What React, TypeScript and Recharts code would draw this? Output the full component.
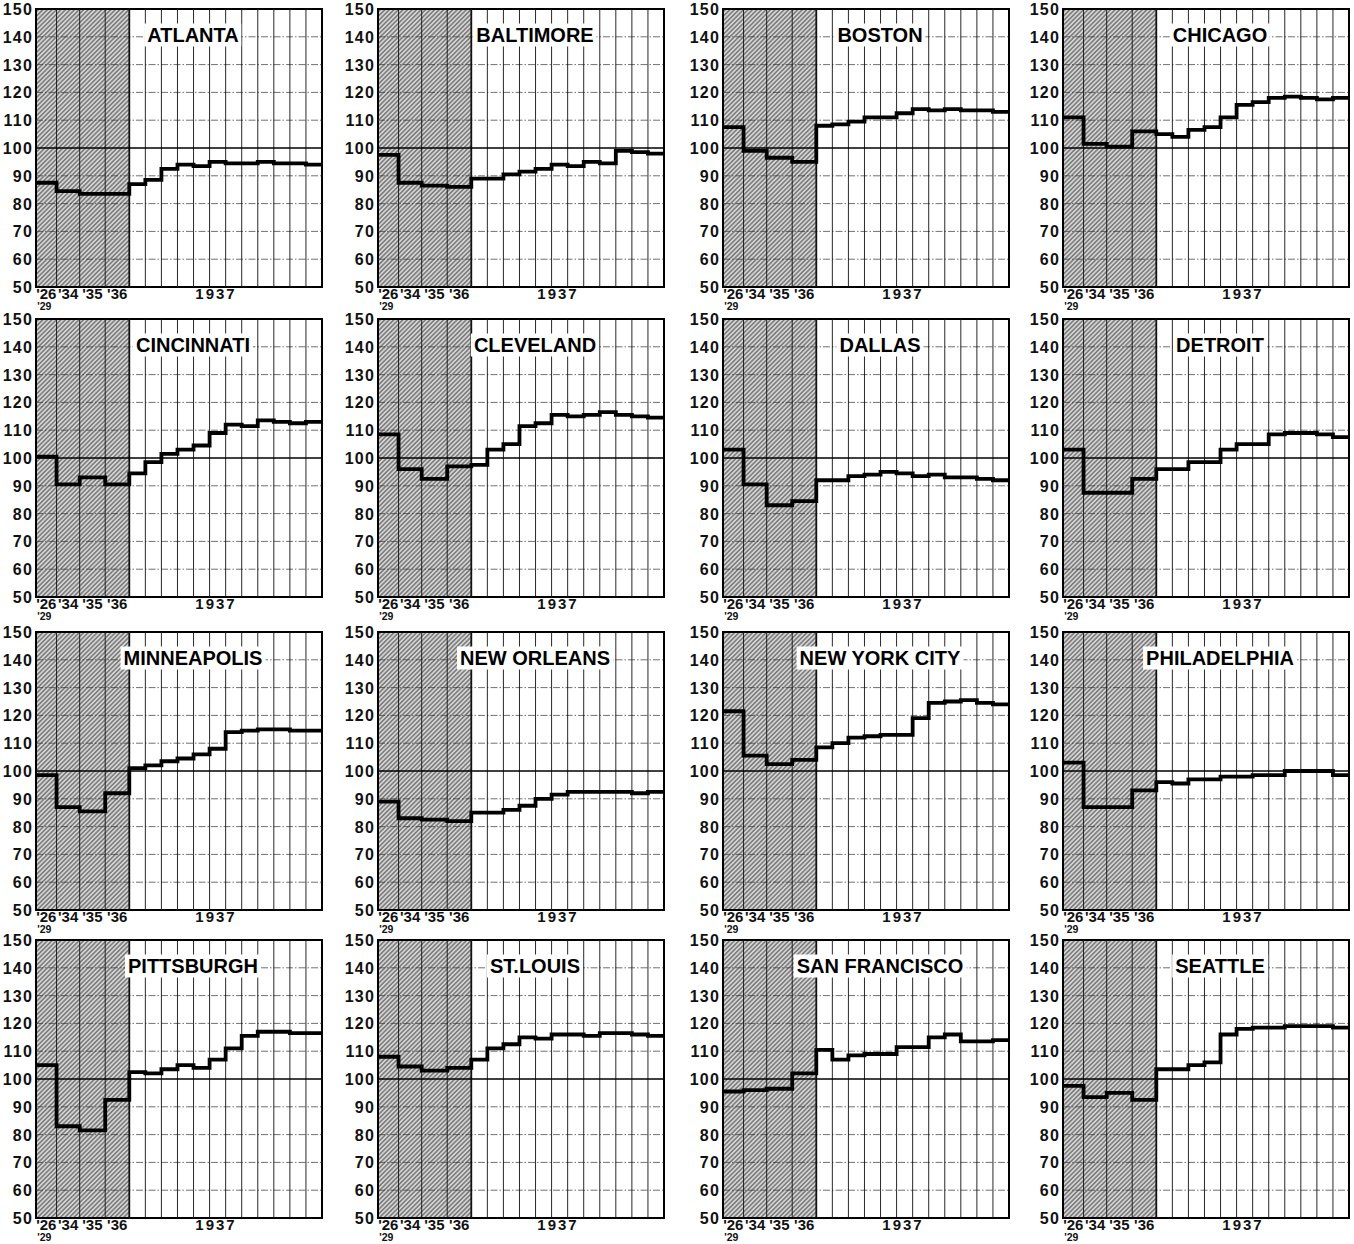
import React from 'react';
import { LineChart, Line, XAxis, YAxis, ReferenceArea, ReferenceLine } from 'recharts';

// ---------- data ----------
const CITIES = [
  'ATLANTA', 'BALTIMORE', 'BOSTON', 'CHICAGO',
  'CINCINNATI', 'CLEVELAND', 'DALLAS', 'DETROIT',
  'MINNEAPOLIS', 'NEW ORLEANS', 'NEW YORK CITY', 'PHILADELPHIA',
  'PITTSBURGH', 'ST.LOUIS', 'SAN FRANCISCO', 'SEATTLE',
];

// periods: '26-'29, '34, '35, '36, then Jan..Dec 1937
const ATLANTA = [87.5, 84.5, 83.5, 83.5, 87, 88.5, 92.5, 94, 93.5, 95, 94.5, 94.5, 95, 94.5, 94.5, 94];
const BALTIMORE = [97.5, 87.5, 86.5, 86, 89, 89, 90.5, 91.5, 92.5, 94, 93.5, 95, 94.5, 99, 98.5, 98];
const BOSTON = [107.5, 99, 96.5, 95, 108, 108.5, 109.5, 111, 111, 112.5, 114, 113.5, 114, 113.5, 113.5, 113];
const CHICAGO = [111, 101.5, 100.5, 106, 105, 104, 106.5, 107.5, 111, 115.5, 116.5, 118, 118.5, 118, 117.5, 118];
const CINCINNATI = [100.5, 90.5, 93, 90.5, 94.5, 98.5, 101.5, 103, 104.5, 109, 112, 111.5, 113.5, 113, 112.5, 113];
const CLEVELAND = [108.5, 96, 92.5, 97, 97.5, 103, 105, 111.5, 112.5, 115.5, 115, 115.5, 116.5, 115.5, 115, 114.5];
const DALLAS = [103, 90.5, 83, 84.5, 92, 92, 93.5, 94, 95, 94.5, 93.5, 94, 93, 93, 92.5, 92];
const DETROIT = [103, 87.5, 87.5, 92.5, 96, 96, 98.5, 98.5, 103, 105, 105, 108.5, 109, 109, 108.5, 107.5];
const MINNEAPOLIS = [98.5, 87, 85.5, 92, 101, 102, 103.5, 104.5, 106, 108, 114, 114.5, 115, 115, 114.5, 114.5];
const NEW_ORLEANS = [89, 83, 82.5, 82, 85, 85, 86, 87.5, 90, 91.5, 92.5, 92.5, 92.5, 92.5, 92, 92.5];
const NEW_YORK_CITY = [121.5, 105.5, 102.5, 104, 108.5, 110, 112, 112.5, 113, 113, 119, 124.5, 125, 125.5, 124.5, 124];
const PHILADELPHIA = [103, 87, 87, 93, 96, 95.5, 97, 97, 98, 98, 98.5, 98.5, 100, 100, 100, 98.5];
const PITTSBURGH = [105, 83, 81.5, 92.5, 102.5, 102, 103.5, 105, 104, 107, 111, 115.5, 117, 117, 116.5, 116.5];
const ST_LOUIS = [108, 104.5, 103, 104, 107, 111, 112.5, 115, 114.5, 116, 116, 115.5, 116.5, 116.5, 116, 115.5];
const SAN_FRANCISCO = [95.5, 96, 96.5, 102, 110.5, 107, 108.5, 109, 109, 111.5, 111.5, 115, 116, 113.5, 113.5, 114];
const SEATTLE = [97.5, 93.5, 95, 92.5, 103.5, 103.5, 105, 106, 116, 118, 118.5, 118.5, 119, 119, 119, 118.5];

const SERIES = [
  ATLANTA, BALTIMORE, BOSTON, CHICAGO,
  CINCINNATI, CLEVELAND, DALLAS, DETROIT,
  MINNEAPOLIS, NEW_ORLEANS, NEW_YORK_CITY, PHILADELPHIA,
  PITTSBURGH, ST_LOUIS, SAN_FRANCISCO, SEATTLE,
];

const PERIOD_LABELS = ["'26", "'34", "'35", "'36"];
const PERIOD_SUBLABEL = "'29";
const YEAR_LABEL = '1937';
const MONTH_COUNT = 12;
const Y_TICKS = [50, 60, 70, 80, 90, 100, 110, 120, 130, 140, 150];

// ---------- layout ----------
const EARLY_COL_WIDTHS = [1.28, 1.44, 1.59, 1.5]; // relative widths of the shaded columns (a month = 1)
const COL_WIDTHS = [...EARLY_COL_WIDTHS, ...Array(MONTH_COUNT).fill(1)];
const BOUNDS: number[] = COL_WIDTHS.reduce((acc: number[], w) => [...acc, acc[acc.length - 1] + w], [0]);
const TOTAL = BOUNDS[BOUNDS.length - 1];
const SHADE_END = BOUNDS[EARLY_COL_WIDTHS.length];
const EARLY_CENTERS = EARLY_COL_WIDTHS.map((w, i) => BOUNDS[i] + w / 2);
const YEAR_POS = SHADE_END + 5.4;
const X_TICKS = [...EARLY_CENTERS, YEAR_POS];

const COL_X = [36, 378, 723, 1063];
const ROW_Y = [9, 319, 632, 940];
const PLOT_W = 286;
const PLOT_H = 278;
const Y_AXIS_W = 40;
const X_AXIS_H = 26;
const RIGHT_PAD = 6;
const TOP_PAD = 9;
const TITLE_DX = 157;
const TITLE_DY = 26;

const FONT = '"Liberation Sans", Arial, Helvetica, sans-serif';

const XTick = (props: any) => {
  const { x, y, payload } = props;
  const v = payload.value;
  const idx = X_TICKS.findIndex((t) => Math.abs(t - v) < 1e-6);
  if (idx < 0) return null;
  const isYear = idx >= PERIOD_LABELS.length;
  const label = isYear ? YEAR_LABEL : PERIOD_LABELS[idx];
  return (
    <g>
      <text
        x={x}
        y={y + 12}
        textAnchor="middle"
        fontSize={15}
        fontWeight={700}
        fill="#111"
        fontFamily={FONT}
        style={{ letterSpacing: isYear ? 2 : 0 }}
      >
        {label}
      </text>
      {idx === 0 && (
        <text x={x - 2} y={y + 23} textAnchor="middle" fontSize={10.5} fontWeight={700} fill="#111" fontFamily={FONT}>
          {PERIOD_SUBLABEL}
        </text>
      )}
    </g>
  );
};

const YTick = (props: any) => {
  const { x, y, payload } = props;
  return (
    <text x={x - 3} y={y + 6} textAnchor="end" fontSize={16} fontWeight={700} fill="#111" fontFamily={FONT} style={{ letterSpacing: 1.2 }}>
      {payload.value}
    </text>
  );
};

const Panel = ({ idx }: { idx: number }) => {
  const values = SERIES[idx];
  const data = [
    ...values.map((v, i) => ({ x: BOUNDS[i], v })),
    { x: TOTAL, v: values[values.length - 1] },
  ];
  const col = idx % 4;
  const row = Math.floor(idx / 4);
  const left = COL_X[col] - Y_AXIS_W;
  const top = ROW_Y[row] - TOP_PAD;
  const width = Y_AXIS_W + PLOT_W + RIGHT_PAD;
  const height = TOP_PAD + PLOT_H + X_AXIS_H;
  const gridYs = Y_TICKS.filter((t) => t !== 50 && t !== 150 && t !== 100);
  const innerBounds = BOUNDS.slice(1, -1);
  return (
    <>
      <div style={{ position: 'absolute', left, top, width, height }}>
        <LineChart width={width} height={height} data={data} margin={{ top: TOP_PAD, right: RIGHT_PAD, bottom: 0, left: 0 }}>
          <XAxis
            type="number"
            dataKey="x"
            domain={[0, TOTAL]}
            ticks={X_TICKS}
            interval={0}
            height={X_AXIS_H}
            tickLine={false}
            axisLine={false}
            tickSize={0}
            tickMargin={0}
            tick={<XTick />}
            allowDataOverflow
          />
          <YAxis
            type="number"
            domain={[50, 150]}
            ticks={Y_TICKS}
            interval={0}
            width={Y_AXIS_W}
            tickLine={false}
            axisLine={false}
            tickSize={0}
            tickMargin={0}
            tick={<YTick />}
            allowDataOverflow
          />
          <ReferenceArea x1={0} x2={SHADE_END} y1={50} y2={150} fill="url(#hatch)" fillOpacity={1} stroke="none" ifOverflow="visible" />
          {gridYs.map((g) => (
            <ReferenceLine key={'h' + g} y={g} stroke="#333" strokeWidth={0.7} strokeDasharray="7 2 1.5 2" ifOverflow="visible" />
          ))}
          {innerBounds.map((b, i) => (
            <ReferenceLine
              key={'v' + i}
              x={b}
              stroke="#111"
              strokeWidth={b === SHADE_END ? 1.8 : 0.9}
              ifOverflow="visible"
            />
          ))}
          <ReferenceLine y={100} stroke="#000" strokeWidth={1.4} ifOverflow="visible" />
          <Line
            type="stepAfter"
            dataKey="v"
            stroke="#000"
            strokeWidth={3.8}
            dot={false}
            activeDot={false}
            isAnimationActive={false}
            strokeLinejoin="miter"
            strokeLinecap="butt"
          />
          <ReferenceArea x1={0} x2={TOTAL} y1={50} y2={150} fill="none" stroke="#000" strokeWidth={2} ifOverflow="visible" />
        </LineChart>
      </div>
      <div
        style={{
          position: 'absolute',
          left: COL_X[col] + TITLE_DX,
          top: ROW_Y[row] + TITLE_DY,
          transform: 'translate(-50%, -50%)',
          background: '#fff',
          padding: '1px 3px',
          fontFamily: FONT,
          fontWeight: 700,
          fontSize: 20,
          lineHeight: '21px',
          color: '#000',
          whiteSpace: 'nowrap',
        }}
      >
        {CITIES[idx]}
      </div>
    </>
  );
};

export default function App() {
  return (
    <div style={{ position: 'absolute', left: 0, top: 0, width: 1354, height: 1244, background: '#fff', overflow: 'hidden' }}>
      <svg width={0} height={0} style={{ position: 'absolute' }}>
        <defs>
          <pattern id="hatch" width="3.2" height="3.2" patternUnits="userSpaceOnUse" patternTransform="rotate(45)">
            <rect width="3.2" height="3.2" fill="#d4d4d4" />
            <line x1="1.6" y1="0" x2="1.6" y2="3.2" stroke="#3a3a3a" strokeWidth="0.9" />
          </pattern>
        </defs>
      </svg>
      {CITIES.map((c, i) => (
        <Panel key={c} idx={i} />
      ))}
    </div>
  );
}
